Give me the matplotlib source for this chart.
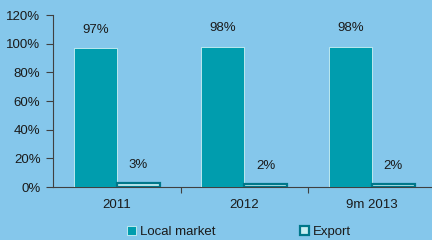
import numpy as np
import matplotlib
matplotlib.use('Agg')
import matplotlib.pyplot as plt
from matplotlib.patches import Patch

# ── data ─────────────────────────────────────────────────────────────────────
categories = ["2011", "2012", "9m 2013"]
local_market = [97, 98, 98]
export = [3, 2, 2]
y_ticks = [0, 20, 40, 60, 80, 100, 120]

bg = "#85C7EB"
teal = "#009DAE"
dark_teal = "#00778A"
pale = "#C6EEF2"
txt = "#1A1A1A"

plt.rcParams['font.family'] = ['Liberation Sans', 'DejaVu Sans']

fig = plt.figure(figsize=(4.32, 2.40), dpi=100, facecolor=bg)
ax = fig.add_axes([53/432, 53/240, 382.5/432, 172/240], facecolor=bg)

x = np.arange(len(categories))
w = 0.337
b1 = ax.bar(x - w/2, local_market, width=w, color=teal, edgecolor="#CFF1F4",
            linewidth=0.6, zorder=3)
b2 = ax.bar(x + w/2, export, width=w, color=pale, edgecolor=dark_teal,
            linewidth=1.6, zorder=3)

for bars, vals in [(b1, local_market), (b2, export)]:
    for r, v in zip(bars, vals):
        ax.annotate(f"{v}%", (r.get_x() + r.get_width()/2, v),
                    xytext=(0, 13), textcoords="offset points",
                    ha="center", va="center", fontsize=9.5, color=txt)

ax.set_xlim(-0.5, 2.5)
ax.set_ylim(0, 120)
ax.set_yticks(y_ticks)
ax.set_yticklabels([f"{v}%" for v in y_ticks])
ax.set_xticks(x)
ax.set_xticklabels(categories)
ax.set_xticks([0.5, 1.5], minor=True)
ax.tick_params(axis="x", which="major", length=0, pad=9, labelsize=9.5, colors=txt)
ax.tick_params(axis="x", which="minor", length=4, width=0.8, color="#404040")
ax.tick_params(axis="y", length=5, width=0.8, color="#404040", pad=4,
               labelsize=9.5, labelcolor=txt)
for s in ["top", "right"]:
    ax.spines[s].set_visible(False)
for s in ["left", "bottom"]:
    ax.spines[s].set_color("#404040")
    ax.spines[s].set_linewidth(0.8)

handles = [Patch(facecolor=teal, edgecolor="#CFF1F4", linewidth=0.6),
           Patch(facecolor=pale, edgecolor=dark_teal, linewidth=1.6)]
fig.legend(handles, ["Local market", "Export"], loc="center",
           bbox_to_anchor=(239/432, 1 - 232/240), ncol=2, frameon=False,
           handlelength=0.7, handleheight=0.7, handletextpad=0.3,
           columnspacing=6.4, fontsize=9.5, labelcolor=txt)

fig.savefig("out.png", dpi=100, facecolor=bg)
